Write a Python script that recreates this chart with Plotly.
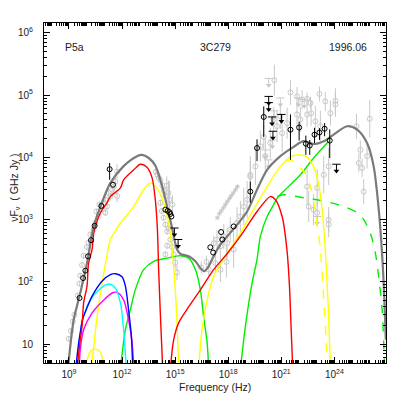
import numpy as np
import plotly.graph_objects as go

# ---------------- model curves (log10 nu [Hz], log10 nuFnu [GHz Jy]) ----------------
total_lognu = [8.95, 9.27, 9.64, 10.02, 10.40, 10.78, 11.34, 12.09, 12.85, 13.13, 13.51, 13.88, 14.26,
               14.55, 14.83, 15.11, 15.30, 15.77, 16.15, 16.43, 16.65, 16.88, 17.11, 17.56, 18.31, 19.07,
               19.63, 20.20, 20.95, 21.70, 22.27, 22.83, 23.40, 23.96, 24.72, 25.29, 25.85, 26.22, 26.51,
               26.70, 26.83, 26.91]
total_logf = [0.62, 1.39, 1.82, 2.30, 2.89, 3.21, 3.59, 3.86, 4.02, 4.04, 3.99, 3.87, 3.545,
              3.21, 2.865, 2.52, 2.45, 2.41, 2.33, 2.22, 2.17, 2.24, 2.37, 2.60, 2.85, 3.13,
              3.48, 3.80, 4.02, 4.17, 4.26, 4.215, 4.26, 4.365, 4.50, 4.445, 4.23, 3.86, 3.16,
              2.44, 1.71, 1.07]

red1_lognu = [9.46, 9.64, 9.74, 9.83, 10.02, 10.11, 10.31, 10.40, 10.78, 11.15, 11.34, 11.91, 12.09,
              12.66, 13.04, 13.41, 13.70, 13.88, 14.00, 14.07, 14.18, 14.30]
red1_logf = [0.60, 1.07, 1.28, 1.66, 1.93, 2.30, 2.52, 2.78, 3.11, 3.27, 3.37, 3.51, 3.64,
             3.80, 3.89, 3.84, 3.67, 3.32, 2.84, 2.195, 1.39, 0.60]

red2_lognu = [14.73, 14.92, 15.20, 15.77, 16.43, 17.18, 17.94, 18.88, 19.63, 20.38, 20.67, 21.05,
              21.32, 21.46, 21.54, 21.65]
red2_logf = [0.60, 1.07, 1.34, 1.60, 1.87, 2.195, 2.45, 2.81, 3.13, 3.37, 3.32, 3.05,
             2.52, 1.955, 1.39, 0.60]

yel1_lognu = [10.27, 10.59, 10.87, 11.11, 11.34, 11.53, 11.91, 12.66, 13.22, 13.60, 13.98, 14.35,
              14.64, 14.83, 15.01, 15.14, 15.20]
yel1_logf = [0.60, 1.44, 1.98, 2.36, 2.68, 2.77, 2.945, 3.21, 3.48, 3.59, 3.505, 3.27,
             2.93, 2.52, 1.87, 1.12, 0.60]

yel2_lognu = [16.33, 16.52, 16.81, 17.18, 17.94, 18.69, 19.25, 20.20, 20.95, 21.52, 22.08, 22.48,
              22.83, 23.12, 23.31, 23.47, 23.58, 23.68, 23.78]
yel2_logf = [0.60, 1.23, 1.71, 2.09, 2.46, 2.78, 3.07, 3.53, 3.855, 4.01, 4.04, 4.00,
             3.85, 3.56, 3.16, 2.60, 2.03, 1.44, 0.60]

yel2d_lognu = [21.23, 21.52, 21.98, 22.36, 22.65, 22.87, 23.07, 23.21, 23.40, 23.52, 23.61]
yel2d_logf = [3.93, 3.96, 3.855, 3.75, 3.53, 3.21, 2.84, 2.52, 1.71, 1.15, 0.60]

yel0_lognu = [9.93, 10.21, 10.49, 10.78, 10.96]
yel0_logf = [0.65, 0.88, 0.92, 0.865, 0.65]

grn1_lognu = [11.91, 12.19, 12.47, 12.75, 13.22, 13.79, 14.55, 15.30, 15.77, 16.15, 16.43, 16.61,
              16.81, 16.90]
grn1_logf = [0.60, 1.23, 1.55, 1.87, 2.195, 2.33, 2.38, 2.42, 2.38, 2.195, 1.87, 1.44,
             1.02, 0.60]

grn2_lognu = [18.69, 18.97, 19.35, 19.63, 19.82, 20.20, 20.57, 20.78, 21.33, 22.08, 22.83, 23.68]
grn2_logf = [0.60, 1.28, 1.98, 2.36, 2.73, 3.05, 3.24, 3.35, 3.51, 3.72, 3.99, 4.26]

grnd_lognu = [20.78, 21.14, 22.08, 23.03, 23.96, 24.72, 25.29, 25.66, 26.04, 26.32, 26.51, 26.70, 26.83]
grnd_logf = [3.37, 3.40, 3.36, 3.32, 3.26, 3.19, 3.11, 3.00, 2.78, 2.46, 2.07, 1.55, 0.70]

blue_lognu = [9.40, 9.55, 9.64, 9.76, 9.93, 10.31, 10.87, 11.34, 11.62, 12.00, 12.19, 12.37, 12.53, 12.60]
blue_logf = [0.65, 1.02, 1.18, 1.39, 1.52, 1.77, 2.01, 2.115, 2.13, 2.08, 1.93, 1.55, 1.12, 0.65]

cyan_lognu = [9.51, 9.55, 9.74, 10.11, 10.68, 11.24, 11.62, 11.91, 12.09, 12.23]
cyan_logf = [0.65, 0.96, 1.34, 1.66, 1.87, 1.965, 1.90, 1.66, 1.23, 0.65]

mag_lognu = [9.59, 9.64, 9.83, 10.31, 10.87, 11.44, 11.72, 12.09, 12.37, 12.57, 12.66]
mag_logf = [0.65, 0.91, 1.23, 1.50, 1.68, 1.82, 1.83, 1.71, 1.39, 1.02, 0.65]

# ---------------- observed data ----------------
blk_lognu = [9.60, 9.80, 9.93, 10.08, 10.25, 10.45, 10.83, 11.30, 11.49,
             14.45, 14.58, 14.68, 14.73, 14.79,
             16.99, 17.15, 17.60, 17.67, 18.31, 19.25, 19.63,
             20.01, 21.52, 22.01, 22.39, 22.61, 22.88, 23.16, 23.45, 23.74]
blk_logf = [1.74, 2.06, 2.18, 2.41, 2.67, 2.90, 3.22, 3.81, 3.56,
            3.16, 3.14, 3.12, 3.09, 3.05,
            2.555, 2.47, 2.80, 2.68, 2.89, 3.45, 4.15,
            4.65, 4.445, 4.48, 4.22, 4.19, 4.365, 4.40, 4.46, 4.27]
blk_errp = [0, 0, 0, 0, 0, 0, 0, 0.10, 0,
            0, 0, 0, 0, 0,
            0, 0, 0, 0, 0, 0.16, 0.14,
            0.17, 0.245, 0.09, 0.13, 0.09, 0.11, 0.07, 0.09, 0.18]
blk_errm = [0, 0, 0, 0, 0, 0, 0, 0.17, 0,
            0, 0, 0, 0, 0,
            0, 0, 0, 0, 0, 0.18, 0.21,
            0.32, 0.485, 0.21, 0.18, 0.15, 0.135, 0.12, 0.12, 0.28]

blk_ul_lognu = [14.96, 15.17, 20.29, 20.29, 20.48, 20.53, 21.01, 24.12]
blk_ul_logf = [2.865, 2.68, 4.98, 4.88, 4.65, 4.42, 4.69, 3.89]

gry_lognu = [8.99, 9.11, 9.22, 9.31, 9.50, 9.59, 9.64, 9.74, 9.83, 10.02, 10.11, 10.21, 10.40, 10.49,
             10.55, 10.68, 10.72, 10.87, 10.96, 11.06, 11.06, 11.15, 11.24, 11.34, 11.44, 11.53, 11.62,
             11.72, 11.72,
             13.91, 14.00, 14.08, 14.17, 14.28, 14.36, 14.45, 14.53, 14.62, 14.17, 14.25, 14.35, 14.45,
             14.55, 14.64, 14.73, 14.55, 14.45, 14.83, 14.92, 15.01, 15.11, 14.68, 14.85,
             16.48, 16.77, 16.90, 17.18, 17.37, 17.56, 17.75, 17.94, 18.12, 18.31, 18.50, 18.69, 18.88,
             19.07, 17.28, 17.56, 17.90, 19.25,
             19.25, 19.54, 19.82, 20.10, 20.01, 20.38, 20.57, 20.76, 20.95, 21.05, 21.33, 21.89, 22.08,
             22.46, 22.69, 22.93, 23.21, 20.61, 21.52, 21.89, 22.18, 22.46, 22.65, 23.16, 23.49, 24.06,
             24.06, 23.78, 25.25, 25.38, 25.57, 25.85, 25.66, 25.47, 26.00, 22.55, 22.46, 23.03, 23.40,
             23.68, 23.68, 23.68, 23.03, 22.82]
gry_logf = [1.085, 1.21, 1.36, 1.47, 1.78, 1.97, 2.10, 2.27, 2.42, 2.56, 2.63, 2.76, 2.84, 2.95,
            3.13, 3.05, 3.24, 3.16, 3.27, 3.32, 3.11, 3.21, 3.43, 3.37, 3.48, 3.53, 3.61,
            3.77, 3.38,
            3.77, 3.72, 3.67, 3.63, 3.545, 3.465, 3.385, 3.545, 3.43, 3.27, 3.14, 3.03, 2.92,
            2.81, 2.855, 2.68, 2.58, 2.44, 2.56, 2.44, 2.31, 2.15, 3.32, 3.24,
            2.23, 2.32, 2.195, 2.62, 2.68, 2.57, 2.73, 2.62, 2.84, 2.52, 2.95, 3.05, 3.21,
            3.32, 2.30, 2.195, 2.32, 3.72,
            3.69, 3.855, 4.18, 4.02, 4.33, 4.23, 4.61, 4.50, 4.66, 4.39, 4.55, 4.69, 4.61,
            4.69, 4.71, 4.58, 4.50, 5.24, 5.045, 4.98, 4.93, 4.94, 4.875, 5.02, 4.90, 4.91,
            4.85, 4.71, 4.50, 3.91, 3.83, 4.02, 3.45, 4.12, 4.62, 3.21, 3.53, 3.51, 3.72,
            3.855, 3.00, 2.92, 3.11, 3.16]
gry_err = [0.04, 0.04, 0.04, 0.04, 0.04, 0.04, 0.04, 0.04, 0.04, 0.05, 0.05, 0.05, 0.05, 0.05,
           0.05, 0.05, 0.05, 0.05, 0.05, 0.05, 0.05, 0.06, 0.06, 0.06, 0.06, 0.08, 0.08,
           0.12, 0.10,
           0.05, 0.05, 0.05, 0.05, 0.05, 0.05, 0.05, 0.15, 0.20, 0.05, 0.05, 0.05, 0.05,
           0.05, 0.05, 0.05, 0.05, 0.05, 0.08, 0.08, 0.10, 0.12, 0.30, 0.15,
           0.10, 0.10, 0.10, 0.12, 0.15, 0.20, 0.20, 0.25, 0.20, 0.30, 0.25, 0.25, 0.30,
           0.30, 0.15, 0.20, 0.25, 0.30,
           0.25, 0.30, 0.25, 0.30, 0.20, 0.25, 0.20, 0.25, 0.20, 0.30, 0.25, 0.20, 0.20,
           0.20, 0.20, 0.25, 0.25, 0.25, 0.20, 0.15, 0.15, 0.10, 0.10, 0.12, 0.15, 0.20,
           0.20, 0.20, 0.20, 0.15, 0.15, 0.20, 0.20, 0.15, 0.30, 0.25, 0.30, 0.30, 0.30,
           0.30, 0.20, 0.20, 0.20, 0.25]

xsp_lognu = [17.39, 17.50, 17.61, 17.73, 17.84, 17.95, 18.07, 18.18, 18.29, 18.41, 18.52]
xsp_logf = [3.03, 3.095, 3.14, 3.19, 3.24, 3.29, 3.34, 3.385, 3.43, 3.48, 3.53]

gry_ul_lognu = [20.29, 20.95, 21.98, 20.10, 20.27, 20.50, 23.03, 20.60, 22.30]
gry_ul_logf = [5.27, 4.955, 4.955, 4.12, 3.96, 4.28, 3.05, 4.75, 4.93]

# tick positions (decades)
x_decades = list(range(8, 27))
x_labeled = [9, 12, 15, 18, 21, 24]
y_decades = [1, 2, 3, 4, 5, 6]

# ---------------- figure ----------------
P = lambda a: 10 ** np.asarray(a, dtype=float)
fig = go.Figure()

GREY = "#c8c8c8"
gy = P(gry_logf)
fig.add_trace(go.Scatter(
    x=P(gry_lognu), y=gy, mode="markers", hoverinfo="skip",
    marker=dict(symbol="circle-open", size=5, color=GREY, line=dict(width=1, color=GREY)),
    error_y=dict(type="data", symmetric=False,
                 array=P(np.add(gry_logf, gry_err)) - gy,
                 arrayminus=gy - P(np.subtract(gry_logf, gry_err)),
                 color=GREY, thickness=1, width=0)))
fig.add_trace(go.Scatter(
    x=P(xsp_lognu), y=P(xsp_logf), mode="markers", hoverinfo="skip",
    marker=dict(symbol="asterisk-open", size=4, color=GREY, line=dict(width=1, color=GREY))))


def add_ul(lognu, logf, color):
    top = P(logf)
    bot = P(np.subtract(logf, 0.11))
    fig.add_trace(go.Scatter(x=P(lognu), y=top, mode="markers", hoverinfo="skip",
                             marker=dict(symbol="line-ew-open", size=6, color=color,
                                         line=dict(width=1, color=color)),
                             error_y=dict(type="data", symmetric=False, array=[0] * len(lognu),
                                          arrayminus=top - bot, color=color, thickness=1, width=0)))
    fig.add_trace(go.Scatter(x=P(lognu), y=bot, mode="markers", hoverinfo="skip",
                             marker=dict(symbol="triangle-down", size=5, color=color)))


add_ul(gry_ul_lognu, gry_ul_logf, GREY)

W = 1.4
curves = [
    (grn1_lognu, grn1_logf, "#00ee00", "solid"),
    (grn2_lognu, grn2_logf, "#00ee00", "solid"),
    (grnd_lognu, grnd_logf, "#00ee00", "dash"),
    (yel0_lognu, yel0_logf, "#ffff00", "solid"),
    (yel1_lognu, yel1_logf, "#ffff00", "solid"),
    (yel2_lognu, yel2_logf, "#ffff00", "solid"),
    (yel2d_lognu, yel2d_logf, "#ffff00", "dash"),
    (mag_lognu, mag_logf, "#ff00ff", "solid"),
    (cyan_lognu, cyan_logf, "#00ffff", "solid"),
    (blue_lognu, blue_logf, "#0000ff", "solid"),
    (red1_lognu, red1_logf, "#ff0000", "solid"),
    (red2_lognu, red2_logf, "#ff0000", "solid"),
]
for lx, ly, col, dash in curves:
    fig.add_trace(go.Scatter(x=P(lx), y=P(ly), mode="lines", hoverinfo="skip",
                             line=dict(color=col, width=W, dash=dash, shape="spline", smoothing=0.8)))
fig.add_trace(go.Scatter(x=P(total_lognu), y=P(total_logf), mode="lines", hoverinfo="skip",
                         line=dict(color="#7a7a7a", width=2.2, shape="spline", smoothing=0.8)))

by = P(blk_logf)
fig.add_trace(go.Scatter(
    x=P(blk_lognu), y=by, mode="markers", hoverinfo="skip",
    marker=dict(symbol="circle-open", size=5, color="black", line=dict(width=1, color="black")),
    error_y=dict(type="data", symmetric=False,
                 array=P(np.add(blk_logf, blk_errp)) - by,
                 arrayminus=by - P(np.subtract(blk_logf, blk_errm)),
                 color="black", thickness=1, width=0)))
add_ul(blk_ul_lognu, blk_ul_logf, "black")

FONT = "Liberation Sans, Arial, sans-serif"
XR = [7.59, 26.92]
common = dict(type="log", showgrid=False, zeroline=False, showline=True, linecolor="black",
              linewidth=1, mirror="ticks", ticks="inside", ticklen=6, tickcolor="black", tickwidth=1)
fig.update_layout(
    xaxis=dict(range=XR, tickmode="array", tickvals=P(x_labeled),
               ticktext=[f"10<sup>{k}</sup>" for k in x_labeled], ticklabelstandoff=2,
               tickfont=dict(family=FONT, size=10, color="#222"),
               minor=dict(ticks="inside", ticklen=3, dtick="D1", tickcolor="black", showgrid=False),
               **common),
    xaxis2=dict(range=XR, overlaying="x", anchor="y", side="bottom", tickmode="array",
                tickvals=P(x_decades), showticklabels=False, **common),
    yaxis=dict(range=[0.695, 6.16], tickmode="array", tickvals=P(y_decades),
               ticktext=["10" if k == 1 else f"10<sup>{k}</sup>" for k in y_decades],
               ticklabelstandoff=8, tickfont=dict(family=FONT, size=10, color="#222"),
               minor=dict(ticks="inside", ticklen=3, dtick="D1", tickcolor="black", showgrid=False),
               **common),
)

ann = [
    dict(text="P5a", x=0.056, y=0.93, xanchor="left"),
    dict(text="3C279", x=0.5, y=0.93, xanchor="center"),
    dict(text="1996.06", x=0.95, y=0.93, xanchor="right"),
]
for a in ann:
    fig.add_annotation(xref="paper", yref="paper", showarrow=False, yanchor="middle",
                       font=dict(family=FONT, size=10.5, color="#222"), **a)
fig.add_annotation(xref="paper", yref="paper", x=0.5, y=-0.07, text="Frequency (Hz)",
                   showarrow=False, xanchor="center", yanchor="middle",
                   font=dict(family=FONT, size=10.5, color="#222"))
fig.add_annotation(xref="paper", yref="paper", x=-0.085, y=0.515, text="νF<sub>ν</sub>  ( GHz Jy )",
                   showarrow=False, textangle=-90, xanchor="center", yanchor="middle",
                   font=dict(family=FONT, size=10.5, color="#222"))

fig.update_layout(width=407, height=407, margin=dict(l=44, r=21, t=23, b=44),
                  paper_bgcolor="white", plot_bgcolor="white", showlegend=False, hovermode=False)
fig.write_html("out.html", config={"displayModeBar": False, "staticPlot": True},
               post_script="document.body.style.margin='0px';")
